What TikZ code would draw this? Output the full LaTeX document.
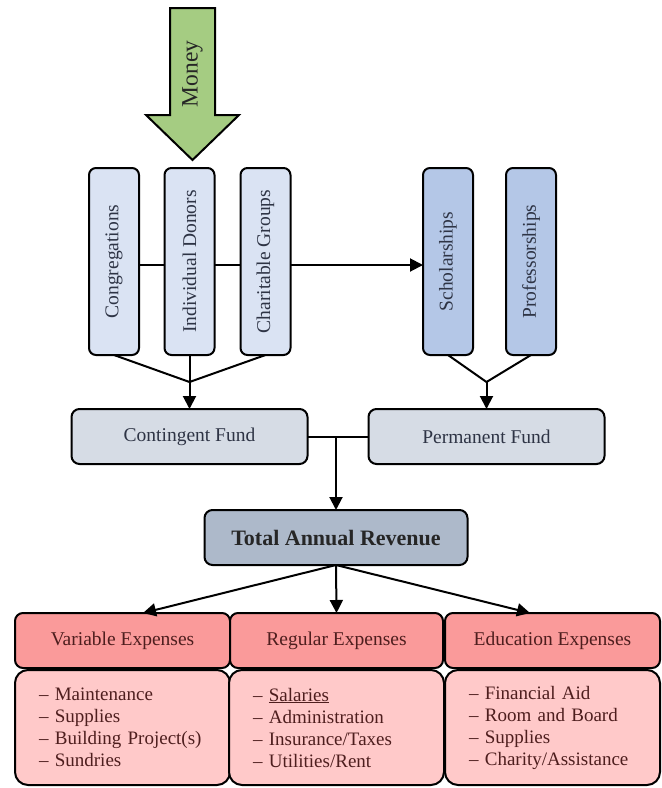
\documentclass[tikz,border=0pt]{standalone}
\usepackage{fontspec}
\setmainfont{Liberation Serif}
\usetikzlibrary{arrows.meta}

\definecolor{srcblue}{HTML}{DAE3F3}
\definecolor{endowblue}{HTML}{B4C7E7}
\definecolor{fundgrey}{HTML}{D6DCE5}
\definecolor{totalgrey}{HTML}{ADB9CA}
\definecolor{exphead}{HTML}{FA9A9A}
\definecolor{expbody}{HTML}{FFC9C9}
\definecolor{moneygreen}{HTML}{A5CC82}
\definecolor{inkblue}{HTML}{2E3445}
\definecolor{inkred}{HTML}{4E1E1E}

\tikzset{
  box/.style={draw=black, line width=2pt, inner sep=0pt, outer sep=0pt,
    font=\fontsize{19.5}{22}\selectfont},
  srcbox/.style={box, fill=srcblue, rounded corners=7pt, text=inkblue,
    minimum width=50pt, minimum height=187pt},
  endowbox/.style={srcbox, fill=endowblue},
  fundbox/.style={box, fill=fundgrey, rounded corners=8pt, text=inkblue,
    minimum width=236pt, minimum height=55pt},
  totalbox/.style={fundbox, fill=totalgrey, minimum width=263pt, text=black!85,
    font=\fontsize{22}{26}\selectfont\bfseries},
  headbox/.style={box, fill=exphead, rounded corners=8pt, text=inkred,
    minimum width=215pt, minimum height=55pt},
  bodybox/.style={box, fill=expbody, rounded corners=13pt, text=inkred,
    minimum width=215pt, minimum height=115pt, align=left,
    text width=167pt, inner xsep=24pt, font=\fontsize{19}{22}\selectfont},
  link/.style={line width=2pt},
  flow/.style={link, -{Triangle[length=13pt,width=13pt]}},
}

\begin{document}
\begin{tikzpicture}[x=1pt,y=-1pt]
\useasboundingbox (0,0) rectangle (662,788);

% Money arrow
\draw[line width=2pt, fill=moneygreen] (170,8) -- (215,8) -- (215,115)
  -- (239,115) -- (192.5,160) -- (146,115) -- (170,115) -- cycle;
\node[font=\fontsize{23.5}{26}\selectfont, text=black!85] (money) at (192.5,74)
  {\rotatebox{90}{Money}};

% Sources and endowments
\node[srcbox] (cong) at (114,261.5) {\rotatebox{90}{Congregations}};
\node[srcbox] (donors) at (189.5,261.5) {\rotatebox{90}{Individual Donors}};
\node[srcbox] (groups) at (265.5,261.5) {\rotatebox{90}{Charitable Groups}};
\node[endowbox] (schol) at (448,261.5) {\rotatebox{90}{Scholarships}};
\node[endowbox] (prof) at (531,261.5) {\rotatebox{90}{Professorships}};

% Funds and revenue
\node[fundbox] (contf) at (189.5,436.5) {Contingent Fund};
\node[fundbox] (permf) at (486.5,436.5) {Permanent Fund};
\node[totalbox] (total) at (336,537.5) {Total Annual Revenue};

% Expenses
\node[headbox] (varh) at (122.5,640.5) {Variable Expenses};
\node[headbox, minimum width=213pt] (regh) at (336.5,640.5) {Regular Expenses};
\node[headbox] (eduh) at (552.5,640.5) {Education Expenses};
\node[bodybox] (varb) at (122.5,727.5) {\textendash{} Maintenance\\
  \textendash{} Supplies\\ \textendash{} Building Project(s)\\ \textendash{} Sundries};
\node[bodybox, minimum width=213pt] (regb) at (336.5,727.5)
  {\textendash{} \underline{Salaries}\\ \textendash{} Administration\\
  \textendash{} Insurance/Taxes\\ \textendash{} Utilities/Rent};
\node[bodybox] (edub) at (552.5,727.5) {\textendash{} Financial Aid\\
  \textendash{} Room and Board\\ \textendash{} Supplies\\
  \textendash{} Charity/Assistance};

% Connectors
\draw[link] ([yshift=-3.5pt]cong.east) -- ([yshift=-3.5pt]donors.west);
\draw[link] ([yshift=-3.5pt]donors.east) -- ([yshift=-3.5pt]groups.west);
\draw[flow] ([yshift=-3.5pt]groups.east) -- ([yshift=-3.5pt]schol.west);

\coordinate (srcjoin) at (189.5,382);
\draw[link] (cong.south) -- (srcjoin) -- (groups.south);
\draw[flow] (donors.south) -- (contf.north);

\coordinate (endowjoin) at (486.5,382);
\draw[link] (schol.south) -- (endowjoin) -- (prof.south);
\draw[flow] (endowjoin) -- (permf.north);

\draw[link] (contf.east) -- (permf.west);
\coordinate (fundjoin) at (contf.east -| total.north);
\draw[flow] (fundjoin) -- (total.north);

\draw[flow] (total.south) -- ([xshift=20.5pt]varh.north);
\draw[flow] (total.south) -- (regh.north);
\draw[flow] (total.south) -- ([xshift=-22.5pt]eduh.north);
\end{tikzpicture}
\end{document}
